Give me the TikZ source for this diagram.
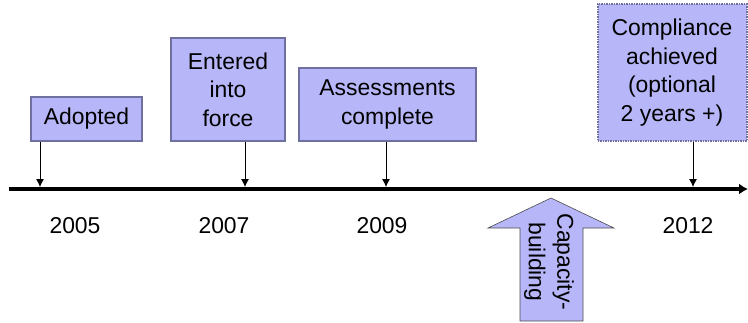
\documentclass[tikz,border=0pt]{standalone}
\usepackage{fontspec}
\setmainfont{Liberation Sans}
\usepackage{tikz}
\usetikzlibrary{arrows.meta,calc}
\definecolor{tl_fill}{RGB}{182, 182, 248}
\definecolor{tl_edge}{RGB}{112, 112, 160}
\tikzstyle{ev}=[rectangle,fill=tl_fill,draw=tl_edge,line width=2bp,
  align=center,inner sep=0pt,font=\fontsize{23}{28.5}\selectfont]
\tikzstyle{evopt}=[ev,dash pattern=on 1.5bp off 1bp]
\tikzstyle{yr}=[font=\fontsize{23}{28.5}\selectfont]
\tikzstyle{tick}=[-{Latex[length=8bp,width=8bp]},line width=0.8bp]
\tikzstyle{none}=[]

\begin{document}
\begin{tikzpicture}[x=1bp,y=-1bp]
            \useasboundingbox (0, 0) rectangle (748, 322);
            \coordinate (start) at (9, 189);
            \coordinate (stop) at (748, 189);
            \coordinate (t05) at (40, 187);
            \coordinate (t07) at (245, 187);
            \coordinate (t09) at (386, 187);
            \coordinate (t12) at (693, 187);
            \node [style=ev, minimum width=111bp, minimum height=44bp] (adopted) at (86.5, 119) {Adopted};
            \node [style=ev, minimum width=114bp, minimum height=103bp] (force) at (228, 89.5) {Entered\\into\\force};
            \node [style=ev, minimum width=177bp, minimum height=73bp] (assess) at (387.5, 104.5) {Assessments\\complete};
            \node [style=evopt, minimum width=149bp, minimum height=137bp] (comply) at (672, 72.5) {Compliance\\achieved\\(optional\\2 years +)};
            \node [style=yr] (y05) at (75, 226) {2005};
            \node [style=yr] (y07) at (224, 226) {2007};
            \node [style=yr] (y09) at (382, 226) {2009};
            \node [style=yr] (y12) at (688, 226) {2012};
            \draw [-{Latex[length=9bp,width=11bp]}, line width=3.5bp] (start) to (stop);
            \draw [style=tick] (adopted.south -| t05) to (t05);
            \draw [style=tick] (force.south -| t07) to (t07);
            \draw [style=tick] (assess.south -| t09) to (t09);
            \draw [style=tick] (comply.south -| t12) to (t12);
            % capacity-building arrow
            \draw [fill=tl_fill, draw=black!70, line width=0.6bp]
              (551, 198) -- (614, 228) -- (583, 228) -- (583, 321) -- (520, 321)
              -- (520, 228) -- (488, 228) -- cycle;
            \node [style=yr, rotate=-90, align=center] (cap) at (549, 262) {Capacity-\\building};
    \end{tikzpicture}
\end{document}
